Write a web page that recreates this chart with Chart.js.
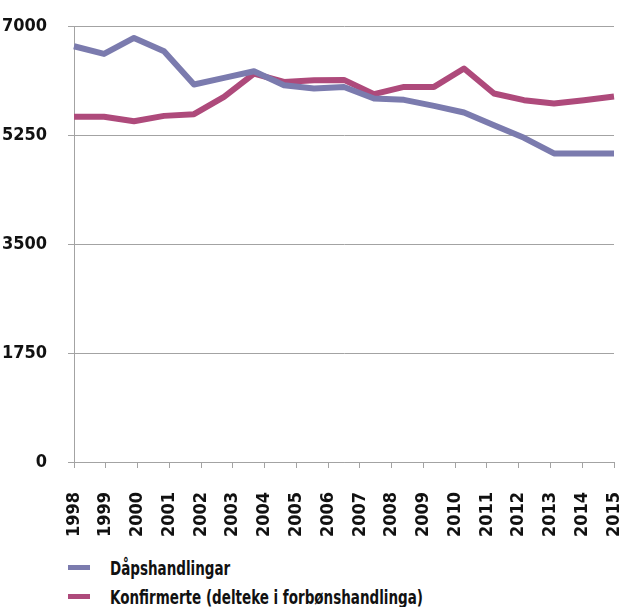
<!DOCTYPE html>
<html>
<head>
<meta charset="utf-8">
<script src="https://cdn.jsdelivr.net/npm/chart.js@4/dist/chart.umd.min.js"></script>
<style>
  body { margin: 0; background: #fff; width: 629px; height: 607px; overflow: hidden;
         font-family: "Liberation Sans Narrow", "DejaVu Sans Condensed", "Liberation Sans", sans-serif; }
  #wrap { position: relative; width: 629px; height: 545px; }
  #legend { position: absolute; left: 68px; top: 553px; }
  .item { display: flex; align-items: center; height: 29px; font-weight: bold; font-size: 20px;
          color: #111; white-space: nowrap; }
  .swatch { width: 22px; height: 5px; margin-right: 20px; flex: none; }
  .txt { display: inline-block; transform: scaleX(0.75); transform-origin: left center; font-stretch: condensed; }
</style>
</head>
<body>
<div id="wrap"><canvas id="myChart" width="629" height="545"></canvas></div>
<div id="legend"></div>
<script>
const years = ["1998", "1999", "2000", "2001", "2002", "2003", "2004", "2005", "2006",
  "2007", "2008", "2009", "2010", "2011", "2012", "2013", "2014", "2015"];

// the lines have one more vertex than there are year labels
const dap = [6675, 6552, 6808, 6594, 6060, 6167, 6274, 6049, 5996, 6020,
  5836, 5814, 5718, 5611, 5408, 5205, 4954, 4954, 4954];
const konf = [5542, 5542, 5472, 5557, 5584, 5862, 6237, 6102, 6129, 6135,
  5905, 6022, 6022, 6317, 5916, 5809, 5756, 5809, 5868];

const yTicks = [0, 1750, 3500, 5250, 7000];

const FONT = "'Liberation Sans Narrow', 'DejaVu Sans Condensed', 'Liberation Sans', sans-serif";
const GRID = "#a3a3a3";
const tickFont = { family: FONT, size: 18, weight: "bold", style: "condensed" };

function series(label, values, color) {
  return {
    label: label,
    data: values.map((v, i) => ({ x: i, y: v })),
    borderColor: color,
    backgroundColor: color,
    borderWidth: 6,
    borderJoinStyle: "round",
    pointRadius: 0,
    tension: 0,
    clip: false,
  };
}

// the scales should not push the plot area in, layout padding does that
function noPadding(s) {
  s.paddingTop = 0;
  s.paddingBottom = 0;
  s.paddingLeft = 0;
  s.paddingRight = 0;
}

const config = {
  type: "line",
  data: {
    datasets: [
      series("Dåpshandlingar", dap, "#7b7bae"),
      series("Konfirmerte (delteke i forbønshandlinga)", konf, "#ae4a7b"),
    ],
  },
  options: {
    responsive: false,
    animation: false,
    layout: { padding: { top: 26, right: 15, left: 0, bottom: 0 } },
    plugins: { legend: { display: false }, tooltip: { enabled: false } },
    scales: {
      x: {
        type: "linear",
        min: 0,
        max: dap.length - 1,
        afterBuildTicks: (axis) => {
          axis.ticks = years.map((y, i) => ({ value: i * (dap.length - 1) / (years.length - 1) }));
        },
        afterFit: (s) => { s.height = 545 - 462; noPadding(s); },
        ticks: {
          autoSkip: false,
          minRotation: 90,
          maxRotation: 90,
          padding: 24,
          color: "#111",
          font: tickFont,
          callback: (v, i) => years[i],
        },
        grid: { drawOnChartArea: false, tickLength: 6, color: GRID },
        border: { color: GRID },
      },
      y: {
        min: 0,
        max: 7000,
        afterBuildTicks: (axis) => { axis.ticks = yTicks.map((v) => ({ value: v })); },
        afterFit: (s) => { s.width = 74; noPadding(s); },
        ticks: {
          padding: 21,
          color: "#111",
          font: tickFont,
          callback: (v) => String(v),
        },
        grid: { tickLength: 6, color: GRID },
        border: { color: GRID },
      },
    },
  },
};

const myChart = new Chart(document.getElementById("myChart"), config);

// legend stacked under the chart
const legend = document.getElementById("legend");
myChart.data.datasets.forEach((ds) => {
  const row = document.createElement("div");
  row.className = "item";
  const sw = document.createElement("span");
  sw.className = "swatch";
  sw.style.background = ds.borderColor;
  const txt = document.createElement("span");
  txt.className = "txt";
  txt.textContent = ds.label;
  row.appendChild(sw);
  row.appendChild(txt);
  legend.appendChild(row);
});
</script>
</body>
</html>
